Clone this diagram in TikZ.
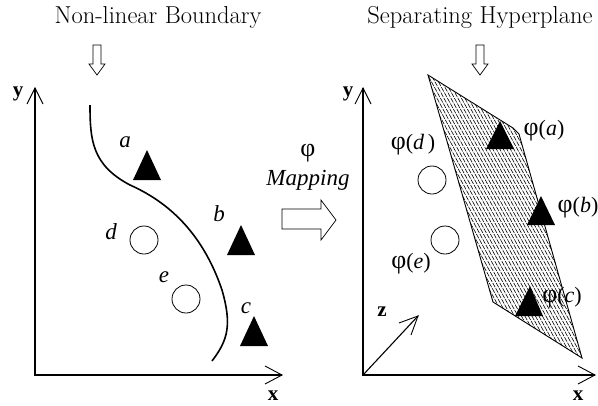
\documentclass[tikz,border=0pt]{standalone}
\usepackage{fontspec}
\newfontfamily\grk{Liberation Serif}
\newcommand{\myphi}{{\fontsize{26}{26}\selectfont φ}}
\begin{document}
\begin{tikzpicture}[x=1pt,y=-1pt,
  axis/.style={line width=1.1pt},
  axtip/.style={line width=0.9pt},
  title/.style={font=\fontsize{24.5}{28}\selectfont},
  lab/.style={font=\fontsize{23}{26}\selectfont\grk\itshape},
  plab/.style={font=\fontsize{22}{26}\selectfont\grk},
  axlab/.style={font=\fontsize{21}{24}\selectfont\grk\bfseries},
  tri/.style={fill=black},
  dot/.style={draw, line width=0.8pt, circle, minimum size=28pt, inner sep=0pt},
  hollow/.style={draw, line width=0.7pt, fill=white},
  bound/.style={line width=1.6pt}]
\useasboundingbox (0,0) rectangle (598,405);
% titles
\node[title] (t1) at (158,17) {Non-linear Boundary};
\node[title] (t2) at (480,17) {Separating Hyperplane};
% hollow down arrows
\draw[hollow] (93,45) -- (101,45) -- (101,64) -- (105,64) -- (97,75) -- (89,64) -- (93,64) -- cycle;
\draw[hollow] (476,45) -- (484,45) -- (484,64) -- (488,64) -- (480,75) -- (472,64) -- (476,64) -- cycle;
% mapping arrow
\draw[hollow] (282,209) -- (321,209) -- (321,200) -- (336,220) -- (321,240) -- (321,229) -- (282,229) -- cycle;
\node[plab] (phi) at (308,153) {\myphi};
\node[lab] (map) at (308,180) {Mapping};
% left axes
\coordinate (o1) at (35,375);
\coordinate (y1) at (35,88);
\coordinate (x1) at (282,375);
\draw[axis] (y1) -- (o1) -- (x1);
\draw[axtip] (27,104) -- (y1) -- (43,104);
\draw[axtip] (265,366) -- (x1) -- (265,384);
\node[axlab] (ly1) at (18,94) {y};
\node[axlab] (lx1) at (273,396) {x};
% boundary curve
\draw[bound] (90,105) .. controls (90,140) and (92,165) .. (130,185)
  .. controls (175,205) and (205,240) .. (222,290)
  .. controls (232,325) and (228,340) .. (212,361);
% left points
\fill[tri] (147,150) -- (161,180) -- (133,180) -- cycle;
\fill[tri] (241,225) -- (255,255) -- (227,255) -- cycle;
\fill[tri] (254,316) -- (268,346) -- (240,346) -- cycle;
\node[dot] (d) at (144,240) {};
\node[dot] (e) at (186,299) {};
\node[lab] (la) at (125,142) {a};
\node[lab] (lb) at (219,214) {b};
\node[lab] (lc) at (246,308) {c};
\node[lab] (ld) at (111,232) {d};
\node[lab] (le) at (164,277) {e};
% right axes
\coordinate (o2) at (363,375);
\coordinate (y2) at (363,88);
\coordinate (x2) at (595,375);
\coordinate (z2) at (418,316);
\draw[axis] (y2) -- (o2) -- (x2);
\draw[axis] (o2) -- (z2);
\draw[axtip] (355,104) -- (y2) -- (371,104);
\draw[axtip] (578,366) -- (x2) -- (578,384);
\draw[axtip] (399,323) -- (z2) -- (411,335);
\node[axlab] (ly2) at (348,94) {y};
\node[axlab] (lx2) at (578,396) {x};
\node[axlab] (lz2) at (382,312) {z};
% hyperplane
\coordinate (p1) at (428,75);
\coordinate (p2) at (513,128);
\coordinate (p3) at (519,134);
\coordinate (p4) at (582,358);
\coordinate (p5) at (493,302);
\begin{scope}
\clip (p1) -- (p2) -- (p3) -- (p4) -- (p5) -- cycle;
\foreach \i in {-200,-196.5,...,600} {
  \draw[line width=0.6pt, dash pattern=on 5pt off 1.2pt] (\i,60) -- (\i+170,370);
}
\end{scope}
\draw[line width=0.9pt] (p1) -- (p2) -- (p3) -- (p4) -- (p5) -- cycle;
% right points
\fill[tri] (500,121) -- (514,149) -- (486,149) -- cycle;
\fill[tri] (541,196) -- (555,225) -- (527,225) -- cycle;
\fill[tri] (530,286) -- (543,316) -- (515,316) -- cycle;
\node[dot] (pd) at (432,180) {};
\node[dot] (pe) at (445,240) {};
\node[plab] (lpa) at (544,131) {\myphi(\textit{a})};
\node[plab] (lpb) at (578,208) {\myphi(\textit{b})};
\node[plab] (lpc) at (562,298) {\myphi(\textit{c})};
\node[plab] (lpd) at (413,145) {\myphi(\textit{d\,})};
\node[plab] (lpe) at (411,264) {\myphi(\textit{e})};
\end{tikzpicture}
\end{document}
